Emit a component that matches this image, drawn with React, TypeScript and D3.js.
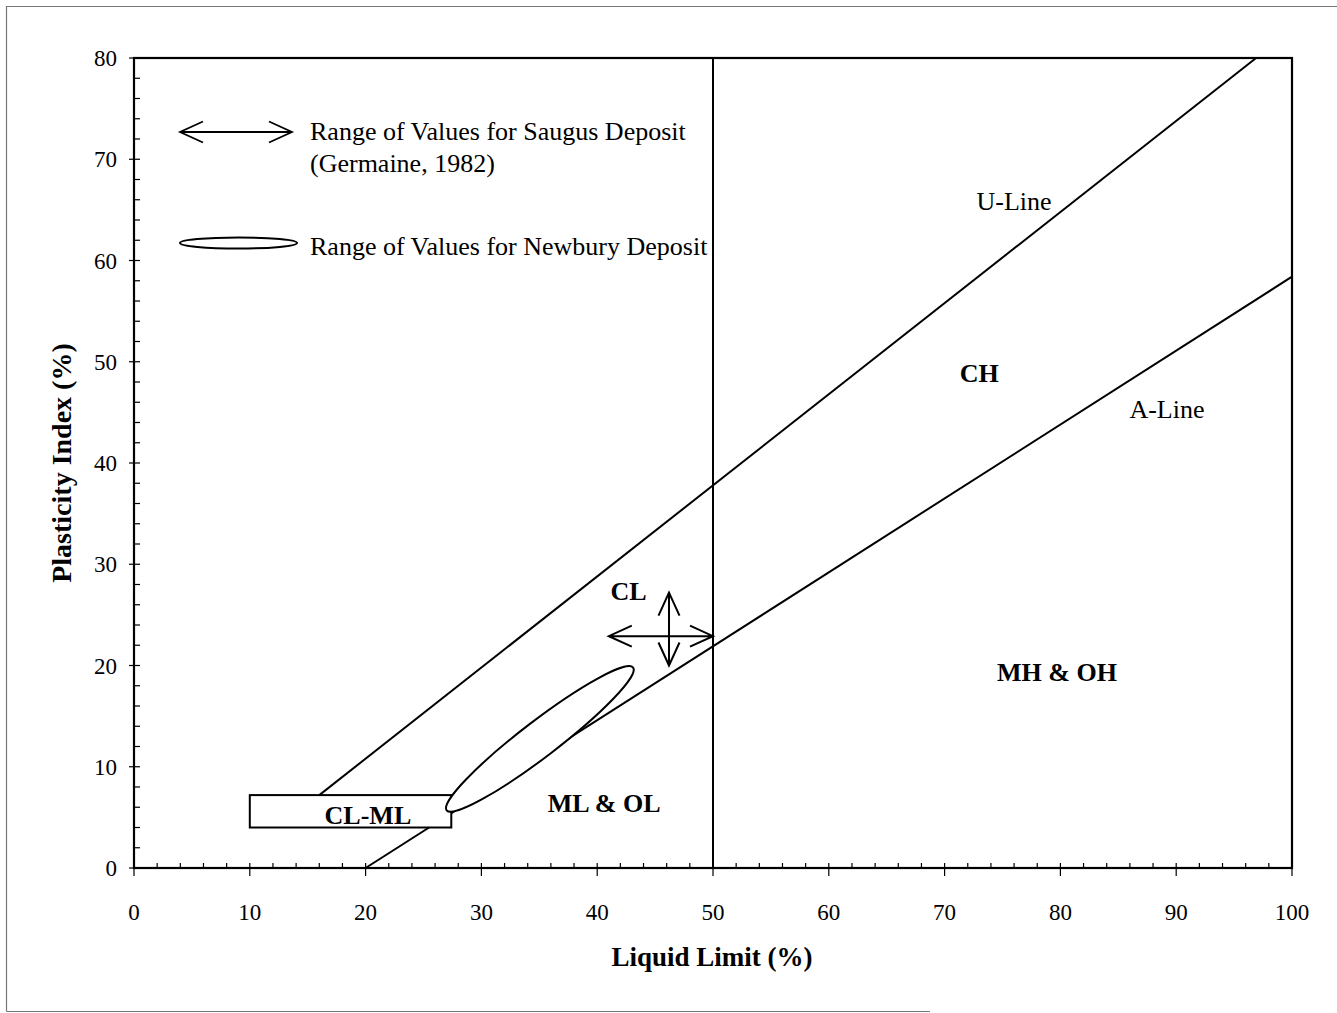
import {useEffect, useRef} from 'react';
import * as d3 from 'd3';

// axis ticks
const xTicks = [0, 10, 20, 30, 40, 50, 60, 70, 80, 90, 100];
const yTicks = [0, 10, 20, 30, 40, 50, 60, 70, 80];
const minorStep = 2;

// classification lines (liquid limit, plasticity index)
const uLine = [[16, 7.2], [96.9, 80]];
const aLine = [[20, 0], [100, 58.4]];
const llBoundary = [[50, 0], [50, 80]];

// CL-ML band
const clmlLL = [10, 27.4];
const clmlPI = [4, 7.2];

// Newbury deposit range (ellipse tips)
const newburyTips = [[27.0, 5.7], [43.1, 19.8]];

// Saugus deposit range (Germaine, 1982)
const saugusLL = [41, 50];
const saugusPIAt = 22.9;
const saugusPI = [20, 27.2];
const saugusLLAt = 46.2;

const zones = [
	{text: 'CL', ll: 42.7, pi: 27.4, bold: true}
	, {text: 'CH', ll: 73.0, pi: 48.9, bold: true}
	, {text: 'MH & OH', ll: 79.7, pi: 19.4, bold: true}
	, {text: 'ML & OL', ll: 40.6, pi: 6.4, bold: true}
	, {text: 'CL-ML', ll: 20.2, pi: 5.2, bold: true}
	, {text: 'U-Line', ll: 76.0, pi: 65.9, bold: false}
	, {text: 'A-Line', ll: 89.2, pi: 45.3, bold: false}
];

const FONT = '"Liberation Serif", "Times New Roman", serif';

function App(){
	const ref = useRef(null);

	useEffect(()=>{
		const el = ref.current;
		const W = 1337, H = 1013;
		const x = d3.scaleLinear().domain([0, 100]).range([134, 1292]);
		const y = d3.scaleLinear().domain([0, 80]).range([868, 58]);

		const svg = d3.select(el).append('svg')
			.attr('width', W).attr('height', H)
			.style('display', 'block')
			.style('background', '#fff');

		// outer frame (scan border)
		svg.append('path')
			.attr('d', 'M6.5,1011.5 L6.5,6.5 L1337,6.5 M6.5,1011.5 L930,1011.5')
			.attr('fill', 'none').attr('stroke', '#777').attr('stroke-width', 1.2);

		const line = d3.line().x(d=>x(d[0])).y(d=>y(d[1]));
		const g = svg.append('g').attr('stroke', '#000').attr('fill', 'none');

		// lines
		[uLine, aLine, llBoundary].forEach(l=>{
			g.append('path').attr('d', line(l)).attr('stroke-width', 2);
		});

		// CL-ML box
		g.append('rect')
			.attr('x', x(clmlLL[0])).attr('y', y(clmlPI[1]))
			.attr('width', x(clmlLL[1]) - x(clmlLL[0]))
			.attr('height', y(clmlPI[0]) - y(clmlPI[1]))
			.attr('fill', '#fff').attr('stroke-width', 2);

		// Newbury ellipse
		const p1 = [x(newburyTips[0][0]), y(newburyTips[0][1])]
			, p2 = [x(newburyTips[1][0]), y(newburyTips[1][1])]
			, cx = (p1[0] + p2[0]) / 2
			, cy = (p1[1] + p2[1]) / 2
			, rx = Math.hypot(p2[0] - p1[0], p2[1] - p1[1]) / 2
			, ang = Math.atan2(p2[1] - p1[1], p2[0] - p1[0]) * 180 / Math.PI;
		g.append('ellipse')
			.attr('cx', cx).attr('cy', cy).attr('rx', rx).attr('ry', 18)
			.attr('transform', `rotate(${ang}, ${cx}, ${cy})`)
			.attr('fill', '#fff').attr('stroke-width', 2);

		// arrows
		const arrowHead = (tx, ty, dx, dy)=>{
			// dx, dy: unit direction pointing back from tip
			const L = 23, Wd = 10.5;
			const px = -dy, py = dx;
			return `M${tx + dx * L + px * Wd},${ty + dy * L + py * Wd} L${tx},${ty} L${tx + dx * L - px * Wd},${ty + dy * L - py * Wd}`;
		};
		const dblArrow = (x1, y1, x2, y2, sw)=>{
			const len = Math.hypot(x2 - x1, y2 - y1), ux = (x2 - x1) / len, uy = (y2 - y1) / len;
			g.append('path')
				.attr('d', `M${x1},${y1} L${x2},${y2} ` + arrowHead(x1, y1, ux, uy) + ' ' + arrowHead(x2, y2, -ux, -uy))
				.attr('stroke-width', sw);
		};
		dblArrow(x(saugusLL[0]), y(saugusPIAt), x(saugusLL[1]), y(saugusPIAt), 2);
		dblArrow(x(saugusLLAt), y(saugusPI[1]), x(saugusLLAt), y(saugusPI[0]), 2);

		// plot frame
		g.append('rect')
			.attr('x', x(0)).attr('y', y(80))
			.attr('width', x(100) - x(0)).attr('height', y(0) - y(80))
			.attr('stroke-width', 2.2);

		// minor + major ticks
		const xMinor = d3.range(0, 100 + 0.1, minorStep);
		const yMinor = d3.range(0, 80 + 0.1, minorStep);
		xMinor.forEach(v=>{
			const major = v % 10 === 0;
			g.append('line').attr('x1', x(v)).attr('x2', x(v))
				.attr('y1', y(0) - 5).attr('y2', y(0) + (major ? 8 : 0))
				.attr('stroke-width', 1.2);
		});
		yMinor.forEach(v=>{
			const major = v % 10 === 0;
			g.append('line').attr('y1', y(v)).attr('y2', y(v))
				.attr('x1', x(0) - (major ? 5 : 0)).attr('x2', x(0) + 6)
				.attr('stroke-width', 1.2);
		});

		// tick labels
		svg.append('g').selectAll('text').data(xTicks).enter().append('text')
			.attr('x', d=>x(d)).attr('y', 920)
			.attr('text-anchor', 'middle')
			.attr('font-family', FONT).attr('font-size', 23)
			.text(d=>d);
		svg.append('g').selectAll('text').data(yTicks).enter().append('text')
			.attr('x', 117).attr('y', d=>y(d) + 8)
			.attr('text-anchor', 'end')
			.attr('font-family', FONT).attr('font-size', 23)
			.text(d=>d);

		// axis titles
		svg.append('text')
			.attr('x', 712).attr('y', 966)
			.attr('text-anchor', 'middle')
			.attr('font-family', FONT).attr('font-size', 27).attr('font-weight', 'bold')
			.text('Liquid Limit (%)');
		svg.append('text')
			.attr('transform', 'translate(71, 463) rotate(-90)')
			.attr('text-anchor', 'middle')
			.attr('font-family', FONT).attr('font-size', 28).attr('font-weight', 'bold')
			.text('Plasticity Index (%)');

		// zone labels
		svg.append('g').selectAll('text').data(zones).enter().append('text')
			.attr('x', d=>x(d.ll)).attr('y', d=>y(d.pi))
			.attr('dy', '0.35em')
			.attr('text-anchor', 'middle')
			.attr('font-family', FONT)
			.attr('font-size', 26)
			.attr('font-weight', d=>d.bold ? 'bold' : 'normal')
			.text(d=>d.text);

		// legend
		const lg = svg.append('g');
		const ax1 = 180, ax2 = 292, ay = 132;
		lg.append('path')
			.attr('d', `M${ax1},${ay} L${ax2},${ay} ` + arrowHead(ax1, ay, 1, 0) + ' ' + arrowHead(ax2, ay, -1, 0))
			.attr('fill', 'none').attr('stroke', '#000').attr('stroke-width', 1.8);
		lg.append('ellipse')
			.attr('cx', 238.5).attr('cy', 243).attr('rx', 58.5).attr('ry', 5.5)
			.attr('fill', 'none').attr('stroke', '#000').attr('stroke-width', 2);
		const legendText = [
			{t: 'Range of Values for Saugus Deposit', y: 140}
			, {t: '(Germaine, 1982)', y: 172}
			, {t: 'Range of Values for Newbury Deposit', y: 255}
		];
		lg.selectAll('text').data(legendText).enter().append('text')
			.attr('x', 310).attr('y', d=>d.y)
			.attr('font-family', FONT).attr('font-size', 26)
			.text(d=>d.t);

		return ()=>{
			el.removeChild(el.firstChild);
		};
	}, []);

	return (<div ref={ref} style={{position: 'absolute', left: 0, top: 0}}></div>);
}

export default App;
